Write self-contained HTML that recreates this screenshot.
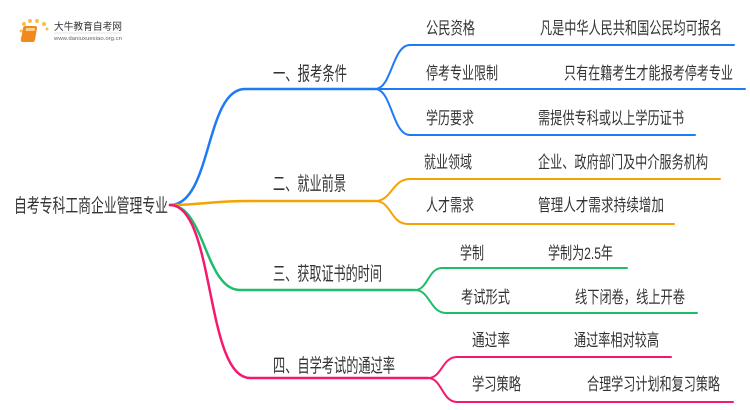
<!DOCTYPE html>
<html><head><meta charset="utf-8"><style>
html,body{margin:0;padding:0;background:#fff;}
svg{display:block;}
text{font-family:"Liberation Sans","Noto Sans CJK SC",sans-serif;fill:#333;}
</style></head><body>
<svg width="750" height="410" viewBox="0 0 750 410" xmlns="http://www.w3.org/2000/svg">
<g>
<circle cx="24" cy="24" r="2" fill="#f7c04a"/><circle cx="30" cy="21" r="2" fill="#f7c04a"/><circle cx="37" cy="21" r="2" fill="#f7c04a"/><circle cx="44" cy="24" r="2" fill="#f7c04a"/><circle cx="47" cy="29" r="1.5" fill="#f7c04a"/><circle cx="21" cy="31" r="1.5" fill="#f7c04a"/><circle cx="22" cy="38" r="1.5" fill="#f9d27a"/>
<rect x="28" y="26" width="14" height="16" rx="2" fill="#f08a1c" transform="skewX(-10)"/>
<rect x="31" y="28" width="9" height="3" fill="#fbd08a" transform="skewX(-10)"/>
<text x="54" y="30" font-size="10" textLength="68" lengthAdjust="spacingAndGlyphs">大牛教育自考网</text>
<line x1="54" y1="33" x2="121" y2="33" stroke="#ccc" stroke-width="0.5"/>
<text x="54" y="40" font-size="5" textLength="68" lengthAdjust="spacingAndGlyphs" style="fill:#666">www.daniuxuexiao.org.cn</text>
</g>
<g fill="none" stroke-linecap="round">
<path d="M170 205 C212 205 205 89 245 89 L375 89" stroke="#1e7bf5" stroke-width="2.5"/>
<path d="M170 205 C200 205 210 201 250 201 L375 201" stroke="#f5a300" stroke-width="2.5"/>
<path d="M170 205 C205 205 205 290 240 290 L415 290" stroke="#1dbe6a" stroke-width="2.5"/>
<path d="M170 205 C215 205 205 378 250 378 L428 378" stroke="#f5186e" stroke-width="2.5"/>
<path d="M375 89 C392 89 392 45 410 45 L734 45" stroke="#1e7bf5" stroke-width="2"/>
<path d="M375 89 L745 89" stroke="#1e7bf5" stroke-width="2"/>
<path d="M375 89 C392 89 392 135 410 135 L695 135" stroke="#1e7bf5" stroke-width="2"/>
<path d="M375 201 C392 201 392 179 410 179 L720 179" stroke="#f5a300" stroke-width="2"/>
<path d="M375 201 C392 201 390 224 408 224 L674 224" stroke="#f5a300" stroke-width="2"/>
<path d="M415 290 C428 290 428 268 442 268 L627 268" stroke="#1dbe6a" stroke-width="2"/>
<path d="M415 290 C430 290 430 313 446 313 L697 313" stroke="#1dbe6a" stroke-width="2"/>
<path d="M428 378 C442 378 442 357 457 357 L671 357" stroke="#f5186e" stroke-width="2"/>
<path d="M428 378 C442 378 442 402 457 402 L733 402" stroke="#f5186e" stroke-width="2"/>
</g>
<text x="14" y="212" font-size="19" textLength="154" lengthAdjust="spacingAndGlyphs">自考专科工商企业管理专业</text>
<text x="273" y="80" font-size="19" textLength="74" lengthAdjust="spacingAndGlyphs">一、报考条件</text>
<text x="273" y="190" font-size="19" textLength="73" lengthAdjust="spacingAndGlyphs">二、就业前景</text>
<text x="273" y="280" font-size="19" textLength="109" lengthAdjust="spacingAndGlyphs">三、获取证书的时间</text>
<text x="273" y="372" font-size="19" textLength="122" lengthAdjust="spacingAndGlyphs">四、自学考试的通过率</text>
<g font-size="17">
<text x="426" y="34" textLength="49" lengthAdjust="spacingAndGlyphs">公民资格</text>
<text x="540" y="34" textLength="182" lengthAdjust="spacingAndGlyphs">凡是中华人民共和国公民均可报名</text>
<text x="426" y="79" textLength="72" lengthAdjust="spacingAndGlyphs">停考专业限制</text>
<text x="564" y="79" textLength="169" lengthAdjust="spacingAndGlyphs">只有在籍考生才能报考停考专业</text>
<text x="426" y="124" textLength="48" lengthAdjust="spacingAndGlyphs">学历要求</text>
<text x="538" y="124" textLength="146" lengthAdjust="spacingAndGlyphs">需提供专科或以上学历证书</text>
<text x="424" y="168" textLength="48" lengthAdjust="spacingAndGlyphs">就业领域</text>
<text x="538" y="168" textLength="170" lengthAdjust="spacingAndGlyphs">企业、政府部门及中介服务机构</text>
<text x="426" y="211" textLength="48" lengthAdjust="spacingAndGlyphs">人才需求</text>
<text x="538" y="211" textLength="126" lengthAdjust="spacingAndGlyphs">管理人才需求持续增加</text>
<text x="460" y="259" textLength="24" lengthAdjust="spacingAndGlyphs">学制</text>
<text x="548" y="259" textLength="65" lengthAdjust="spacingAndGlyphs">学制为2.5年</text>
<text x="461" y="303" textLength="49" lengthAdjust="spacingAndGlyphs">考试形式</text>
<text x="575" y="303" textLength="110" lengthAdjust="spacingAndGlyphs">线下闭卷，线上开卷</text>
<text x="472" y="346" textLength="38" lengthAdjust="spacingAndGlyphs">通过率</text>
<text x="574" y="346" textLength="85" lengthAdjust="spacingAndGlyphs">通过率相对较高</text>
<text x="472" y="390" textLength="49" lengthAdjust="spacingAndGlyphs">学习策略</text>
<text x="587" y="390" textLength="133" lengthAdjust="spacingAndGlyphs">合理学习计划和复习策略</text>
</g>
</svg>
</body></html>
